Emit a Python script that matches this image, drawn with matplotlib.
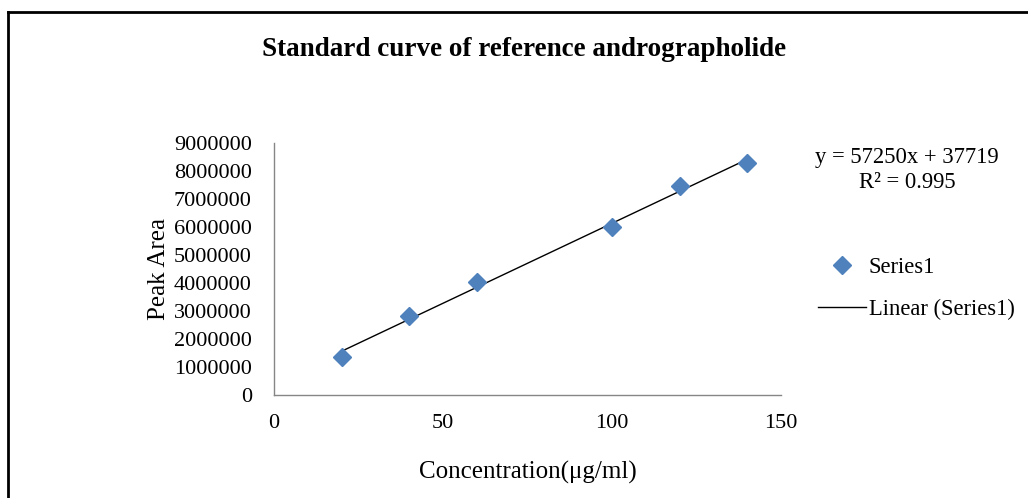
"""Standard curve of reference andrographolide: scatter + linear trendline."""
import matplotlib

matplotlib.use("Agg")
import matplotlib.pyplot as plt  # noqa: E402
import numpy as np  # noqa: E402
from matplotlib.lines import Line2D  # noqa: E402

plt.rcParams["font.family"] = ["Liberation Serif", "DejaVu Serif"]

conc = np.array([20, 40, 60, 100, 120, 140])
peak_area = np.array([1360000, 2830000, 4020000, 5990000, 7460000, 8280000])
x_ticks = [0, 50, 100, 150]
y_ticks = list(range(0, 9000001, 1000000))
equation = "y = 57250x + 37719\nR² = 0.995"

MARK = "#4F81BD"
AXIS = "#868686"

fig = plt.figure(figsize=(10.28, 4.98), dpi=100)
ax = fig.add_axes([274 / 1028, 1 - 395 / 498, 507 / 1028, 252 / 498])

ax.plot(conc, peak_area, "D", color=MARK, ms=9.5, mec=MARK, label="Series1",
        zorder=3)
slope, icpt = np.polyfit(conc, peak_area, 1)
xl = np.array([conc.min(), conc.max()])
ax.plot(xl, slope * xl + icpt, color="black", lw=1.0, label="Linear (Series1)",
        zorder=2)

ax.set_xlim(0, 150)
ax.set_ylim(0, 9000000)
ax.set_xticks(x_ticks)
ax.set_yticks(y_ticks)
ax.set_yticklabels([str(v) for v in y_ticks])
ax.tick_params(length=0, labelsize=16)
ax.tick_params(axis="y", pad=16)
ax.tick_params(axis="x", pad=14)
for s in ("top", "right"):
    ax.spines[s].set_visible(False)
for s in ("left", "bottom"):
    ax.spines[s].set_color(AXIS)
    ax.spines[s].set_linewidth(1.0)

ax.set_xlabel("Concentration(μg/ml)", fontsize=18, labelpad=20)
ax.set_ylabel("Peak Area", fontsize=18, labelpad=3)

fig.text(524 / 1028, 1 - 50 / 498, "Standard curve of reference andrographolide",
         ha="center", va="center", fontsize=19.5, fontweight="bold")
fig.text(907 / 1028, 1 - 170 / 498, equation, ha="center", va="center",
         fontsize=16.3, linespacing=1.3)

handles, labels = ax.get_legend_handles_labels()
fig.legend(handles, labels, loc="upper left",
           bbox_to_anchor=(818 / 1028, 1 - 257 / 498), frameon=False,
           fontsize=16.3, handlelength=2.1, handletextpad=0.15,
           labelspacing=0.9, borderpad=0, borderaxespad=0)

# outer frame (only top and left edges visible in the crop)
fig.add_artist(Line2D([8 / 1028, 1.0], [1 - 12 / 498, 1 - 12 / 498],
                      transform=fig.transFigure, color="black", lw=2))
fig.add_artist(Line2D([8 / 1028, 8 / 1028], [0.0, 1 - 12 / 498],
                      transform=fig.transFigure, color="black", lw=2))

fig.savefig("out.png", dpi=100)
plt.close(fig)
